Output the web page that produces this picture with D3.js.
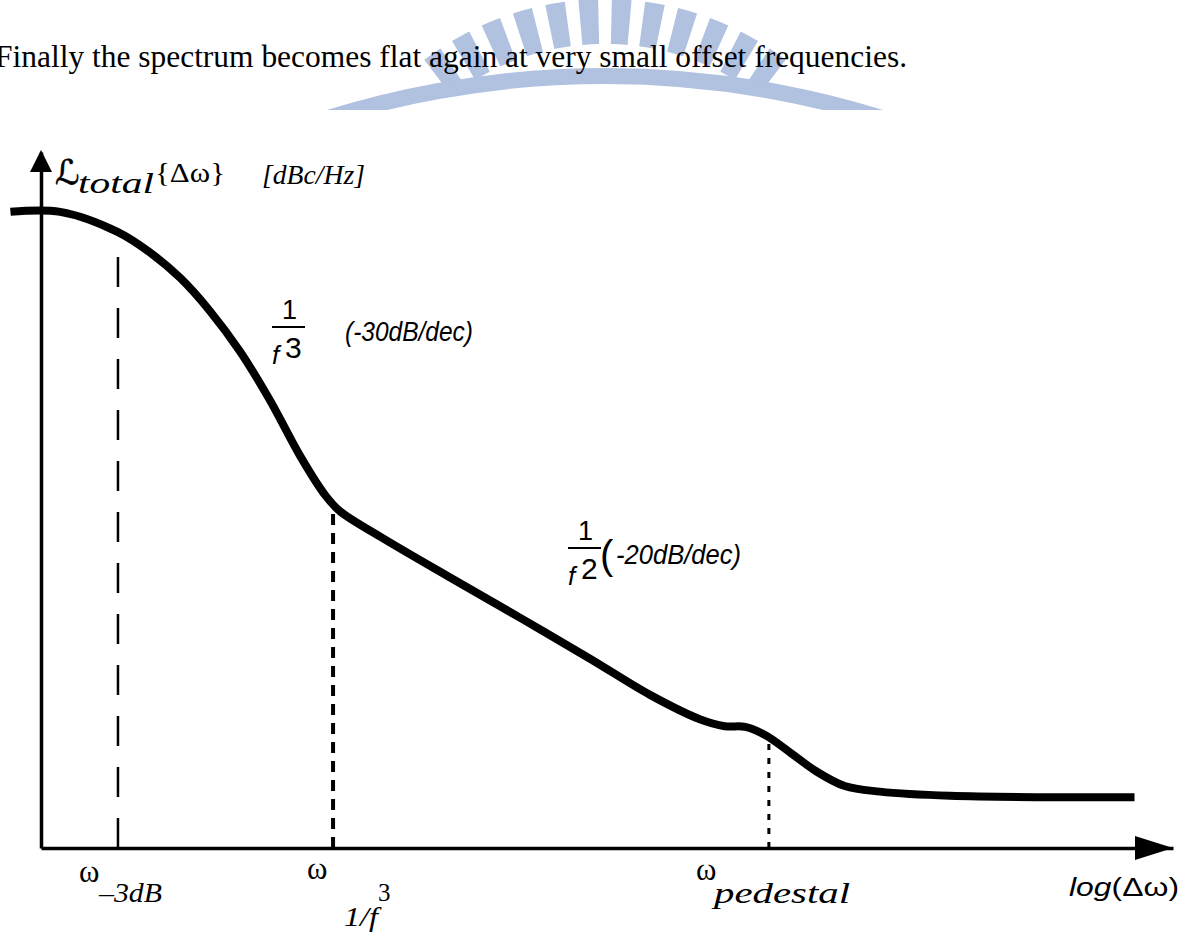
<!DOCTYPE html>
<html><head><meta charset="utf-8">
<script src="https://cdn.jsdelivr.net/npm/d3@7"></script>
<style>
html,body{margin:0;padding:0;background:#fff;overflow:hidden;}
svg{display:block;}
</style></head>
<body>
<svg id="chart" width="1189" height="933"></svg>
<script>
// Total phase-noise spectrum L_total{Δω} against log offset frequency (schematic).
// Offset frequency in decades of log(Δω); level in relative dB.
const curveLogW  = [-0.27, 0.17, 0.68, 0.96, 1.23, 1.49, 1.76, 2.02, 2.29, 2.51, 2.64, 3.00, 3.61, 4.23, 4.85, 5.38, 5.82, 6.04, 6.22, 6.40, 6.62, 6.84, 7.10, 7.41, 8.03, 9.66];
const curveLevel = [91.4, 91.4, 88.5, 85.6, 81.9, 77.2, 71.3, 64.4, 56.3, 50.7, 48.4, 44.7, 38.9, 33.1, 27.2, 22.0, 18.5, 17.5, 17.4, 16.2, 13.7, 11.1, 8.9, 8.1, 7.5, 7.3];

// Corner frequencies marked on the axis
const cornerSubs  = ["–3dB", "1/f", "pedestal"];
const cornerLogW  = [0.68, 2.58, 6.43];
const cornerLevel = [88.5, 49.6, 15.8];

// Slope annotations
const slopePowers = ["3", "2"];
const slopeTexts  = ["-30dB/dec", "-20dB/dec"];

const headline = "Finally the spectrum becomes flat again at very small offset frequencies.";

const svg = d3.select("#chart");
const W = 1189, H = 933;

const x = d3.scaleLinear().domain([0, 10]).range([41, 1173]);
const y = d3.scaleLinear().domain([0, 100]).range([848, 152]);

const serif = "Liberation Serif, Times New Roman, serif";
const sans = "Liberation Sans, Arial, Helvetica, sans-serif";

// ---- watermark emblem (top centre, behind the text)
const defs = svg.append("defs");
defs.append("clipPath").attr("id", "topClip")
  .append("rect").attr("x", 0).attr("y", 0).attr("width", W).attr("height", 110);
const mark = svg.append("g").attr("clip-path", "url(#topClip)").attr("fill", "#b0c2e0");
// radial bars
const rays = mark.append("g").attr("transform", "translate(605,298)");
const barStep = 0.112, barWidth = 0.066;
const barAngles = d3.range(-6, 6).map(i => (i + 0.5) * barStep);
rays.selectAll("path").data(barAngles).join("path")
  .attr("d", a => d3.arc()({innerRadius: 254, outerRadius: 299, startAngle: a - barWidth / 2, endAngle: a + barWidth / 2}));
// solid band
mark.append("g").attr("transform", "translate(605,1010)")
  .append("path").attr("d", d3.arc()({innerRadius: 926, outerRadius: 942, startAngle: -0.36, endAngle: 0.36}));

// ---- headline sentence
svg.append("text")
  .attr("x", -5).attr("y", 67)
  .attr("font-family", serif)
  .attr("font-size", 32)
  .attr("textLength", 912).attr("lengthAdjust", "spacingAndGlyphs")
  .attr("fill", "#000")
  .text(headline);

// ---- axes
const xAxis = d3.axisBottom(x).tickValues([]).tickSizeOuter(0);
const yAxis = d3.axisLeft(y).tickValues([]).tickSizeOuter(0);
const gx = svg.append("g").attr("transform", `translate(0,${y(0)})`).call(xAxis);
const gy = svg.append("g").attr("transform", `translate(${x(0)},0)`).call(yAxis);
[gx, gy].forEach(g => g.select("path.domain").attr("stroke", "#000").attr("stroke-width", 3.5));

// arrowheads
svg.append("path")
  .attr("d", `M${x(10)},${y(0)} L${x(10) - 38},${y(0) - 12} L${x(10) - 38},${y(0) + 12} Z`)
  .attr("fill", "#000");
svg.append("path")
  .attr("d", `M${x(0)},${y(100) - 2} L${x(0) - 11},${y(100) + 20} L${x(0) + 11},${y(100) + 20} Z`)
  .attr("fill", "#000");

// ---- corner-frequency markers
const markerStyles = [
  {w: 2.5, dash: "30,21"},
  {w: 4, dash: "11,8"},
  {w: 3, dash: "6,8"}
];
cornerLogW.forEach((v, i) => {
  svg.append("line")
    .attr("x1", x(v)).attr("x2", x(v))
    .attr("y1", y(0)).attr("y2", y(cornerLevel[i]))
    .attr("stroke", "#000")
    .attr("stroke-width", markerStyles[i].w)
    .attr("stroke-dasharray", markerStyles[i].dash);
});

// ---- spectrum curve
const pts = curveLogW.map((v, i) => [v, curveLevel[i]]);
const line = d3.line().x(d => x(d[0])).y(d => y(d[1])).curve(d3.curveCatmullRom.alpha(0.5));
svg.append("path").datum(pts)
  .attr("d", line)
  .attr("fill", "none")
  .attr("stroke", "#000")
  .attr("stroke-width", 8)
  .attr("stroke-linejoin", "round");

// ---- y-axis title: L_total{Δω} [dBc/Hz]
svg.append("text").attr("x", 55).attr("y", 184)
  .attr("font-family", "DejaVu Serif, DejaVu Sans, serif").attr("font-style", "italic").attr("font-size", 34)
  .attr("stroke", "#000").attr("stroke-width", 0.6)
  .text("ℒ");
svg.append("text").attr("x", 78).attr("y", 193)
  .attr("font-family", serif).attr("font-style", "italic").attr("font-size", 29)
  .attr("textLength", 76).attr("lengthAdjust", "spacingAndGlyphs")
  .text("total");
svg.append("text").attr("x", 155).attr("y", 182)
  .attr("font-family", serif).attr("font-size", 28)
  .attr("textLength", 70).attr("lengthAdjust", "spacingAndGlyphs")
  .text("{Δω}");
svg.append("text").attr("x", 262).attr("y", 184)
  .attr("font-family", serif).attr("font-style", "italic").attr("font-size", 28)
  .attr("textLength", 103).attr("lengthAdjust", "spacingAndGlyphs")
  .text("[dBc/Hz]");

// ---- x-axis corner labels
// ω_-3dB
svg.append("text").attr("x", 79).attr("y", 882)
  .attr("font-family", serif).attr("font-size", 31).text("ω");
svg.append("text").attr("x", 99).attr("y", 902)
  .attr("font-family", serif).attr("font-style", "italic").attr("font-size", 28)
  .attr("textLength", 63).attr("lengthAdjust", "spacingAndGlyphs")
  .text(cornerSubs[0]);
// ω_1/f^3
svg.append("text").attr("x", 307).attr("y", 879)
  .attr("font-family", serif).attr("font-size", 31).text("ω");
svg.append("text").attr("x", 344).attr("y", 926)
  .attr("font-family", serif).attr("font-style", "italic").attr("font-size", 28)
  .attr("textLength", 34).attr("lengthAdjust", "spacingAndGlyphs")
  .text(cornerSubs[1]);
svg.append("text").attr("x", 378).attr("y", 901)
  .attr("font-family", serif).attr("font-size", 25).text("3");
// ω_pedestal
svg.append("text").attr("x", 696).attr("y", 880)
  .attr("font-family", serif).attr("font-size", 31).text("ω");
svg.append("text").attr("x", 714).attr("y", 903)
  .attr("font-family", serif).attr("font-style", "italic").attr("font-size", 30)
  .attr("textLength", 136).attr("lengthAdjust", "spacingAndGlyphs")
  .text(cornerSubs[2]);
// log(Δω)
const lg = svg.append("text").attr("x", 1069).attr("y", 896)
  .attr("font-family", sans).attr("font-size", 26)
  .attr("textLength", 110).attr("lengthAdjust", "spacingAndGlyphs");
lg.append("tspan").attr("font-style", "italic").text("log");
lg.append("tspan").text("(Δω)");

// ---- slope annotations: 1/f^n (slope)
const slopeBoxes = [
  {fx: 272, fy: 327, tx: 345, ty: 341, tl: 128, bigParen: false},
  {fx: 568, fy: 548, tx: 600, ty: 566, tl: 141, bigParen: true}
];
slopeBoxes.forEach((b, i) => {
  const g = svg.append("g");
  g.append("text").attr("x", b.fx + 10).attr("y", b.fy - 8)
    .attr("font-family", sans).attr("font-size", 27).text("1");
  g.append("line").attr("x1", b.fx).attr("x2", b.fx + 33)
    .attr("y1", b.fy).attr("y2", b.fy).attr("stroke", "#000").attr("stroke-width", 2.2);
  g.append("text").attr("x", b.fx).attr("y", b.fy + 37)
    .attr("font-family", sans).attr("font-style", "italic").attr("font-size", 26).text("f");
  g.append("text").attr("x", b.fx + 13).attr("y", b.fy + 31)
    .attr("font-family", sans).attr("font-size", 30).text(slopePowers[i]);
  if (b.bigParen) {
    g.append("text").attr("x", b.tx).attr("y", b.ty + 3)
      .attr("font-family", sans).attr("font-size", 40).text("(");
    g.append("text").attr("x", b.tx + 16).attr("y", b.ty - 2)
      .attr("font-family", sans).attr("font-style", "italic").attr("font-size", 27)
      .attr("textLength", b.tl - 16).attr("lengthAdjust", "spacingAndGlyphs")
      .text(slopeTexts[i] + ")");
  } else {
    g.append("text").attr("x", b.tx).attr("y", b.ty)
      .attr("font-family", sans).attr("font-style", "italic").attr("font-size", 27)
      .attr("textLength", b.tl).attr("lengthAdjust", "spacingAndGlyphs")
      .text("(" + slopeTexts[i] + ")");
  }
});
</script>
</body></html>
